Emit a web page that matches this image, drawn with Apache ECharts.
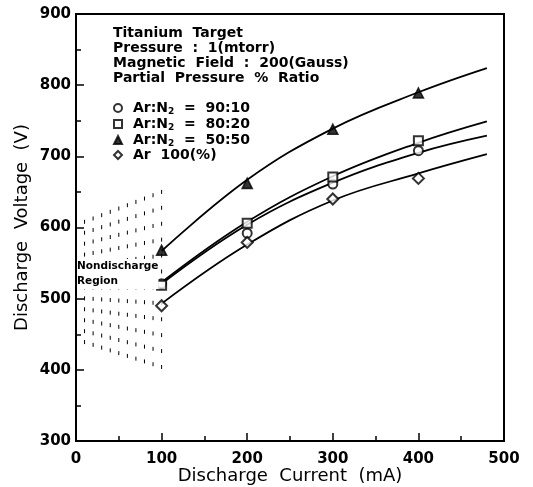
<!DOCTYPE html>
<html>
<head>
<meta charset="utf-8">
<script src="https://cdn.jsdelivr.net/npm/echarts@6/dist/echarts.min.js"></script>
<style>
  html, body { margin: 0; padding: 0; background: #fff; }
  #chart { width: 533px; height: 487px; }
</style>
</head>
<body>
<div id="chart"></div>
<script>
// measured points (mA, V)
const current = [100, 200, 300, 400];
const v9010 = [521, 592, 661, 708];
const v8020 = [519, 606, 671, 722];
const v5050 = [568, 662, 738, 789];
const vAr100 = [490, 579, 640, 669];

// fitted curves
const fitCurrent = [100, 200, 300, 400, 480];
const fit9010 = [521, 604, 663, 705, 729];
const fit8020 = [523, 608, 672, 719, 749];
const fit5050 = [567, 667, 739, 790, 824];
const fitAr100 = [493, 576, 638, 676, 703];

// non-discharge region outline: x, lower V, upper V
const regionCurrent = [10, 100];
const regionLow = [439, 404];
const regionHigh = [608, 650];

const xTicks = [0, 100, 200, 300, 400, 500];
const yTicks = [300, 400, 500, 600, 700, 800, 900];

const FONT = 'DejaVu Sans';
const pairs = (xs, ys) => xs.map((x, i) => [x, ys[i]]);

const chart = echarts.init(document.getElementById('chart'));

const hatchItem = (params, api) => {
    const cols = 10, rows = 12;
    const children = [];
    for (let c = 0; c < cols; c++) {
        const t = c / (cols - 1);
        const x = regionCurrent[0] + (regionCurrent[1] - regionCurrent[0]) * t;
        const lo = regionLow[0] + (regionLow[1] - regionLow[0]) * t;
        const hi = regionHigh[0] + (regionHigh[1] - regionHigh[0]) * t;
        for (let r = 0; r < rows; r++) {
            const v = lo + (hi - lo) * r / (rows - 1);
            const p = api.coord([x, v]);
            children.push({
                type: 'line',
                shape: { x1: p[0], y1: p[1] - 2, x2: p[0], y2: p[1] + 2 },
                style: { stroke: '#000', lineWidth: 1 }
            });
        }
    }
    return { type: 'group', children };
};

const curve = (data) => ({
    type: 'line',
    data,
    smooth: 0.4,
    showSymbol: false,
    silent: true,
    lineStyle: { color: '#000', width: 1.8 },
    z: 3
});

const marks = (name, data, symbol, size) => ({
    name,
    type: 'scatter',
    data,
    symbol,
    symbolSize: size,
    itemStyle: { color: '#000', borderColor: '#000', borderWidth: 1.6 },
    z: 5
});

const legendLabel = {
    'Ar:N2 = 90:10': '{t|Ar:N}{s|2}{t|  =  90:10}',
    'Ar:N2 = 80:20': '{t|Ar:N}{s|2}{t|  =  80:20}',
    'Ar:N2 = 50:50': '{t|Ar:N}{s|2}{t|  =  50:50}',
    'Ar 100(%)': '{t|Ar  100(%)}'
};

chart.setOption({
    animation: false,
    grid: {
        left: 76, right: 29, top: 14, bottom: 46,
        outerBoundsMode: 'none',
        show: true, borderColor: '#000', borderWidth: 2
    },
    title: {
        text: 'Titanium  Target\nPressure  :  1(mtorr)\nMagnetic  Field  :  200(Gauss)\nPartial  Pressure  %  Ratio',
        left: 113, top: 26, padding: 0,
        textStyle: { fontFamily: FONT, fontWeight: 'bold', fontSize: 14, lineHeight: 15, color: '#000' }
    },
    legend: {
        orient: 'vertical',
        left: 113, top: 100, padding: 0,
        itemWidth: 8, itemHeight: 8, itemGap: 0,
        data: ['Ar:N2 = 90:10', 'Ar:N2 = 80:20', 'Ar:N2 = 50:50', 'Ar 100(%)'],
        formatter: name => legendLabel[name],
        textStyle: {
            padding: [0, 0, 0, 6],
            rich: {
                t: { fontFamily: FONT, fontWeight: 'bold', fontSize: 14, lineHeight: 14, color: '#000' },
                s: { fontFamily: FONT, fontWeight: 'bold', fontSize: 9, lineHeight: 14, color: '#000', padding: [7, 0, 0, 0] }
            }
        }
    },
    xAxis: {
        type: 'value',
        min: xTicks[0], max: xTicks[xTicks.length - 1], interval: 100,
        name: 'Discharge  Current  (mA)',
        nameLocation: 'middle', nameGap: 26, nameMoveOverlap: false,
        nameTextStyle: { fontFamily: FONT, fontSize: 18, color: '#000' },
        axisLine: { lineStyle: { color: '#000', width: 2 } },
        axisTick: { inside: true, length: 8, lineStyle: { color: '#000', width: 1.5 } },
        minorTick: { show: true, splitNumber: 2, length: 5, lineStyle: { color: '#000', width: 1.5 } },
        splitLine: { show: false },
        axisLabel: { fontFamily: FONT, fontWeight: 'bold', fontSize: 15, color: '#000', margin: 11 }
    },
    yAxis: {
        type: 'value',
        min: yTicks[0], max: yTicks[yTicks.length - 1], interval: 100,
        name: 'Discharge  Voltage  (V)',
        nameLocation: 'middle', nameGap: 45, nameMoveOverlap: false,
        nameTextStyle: { fontFamily: FONT, fontSize: 18, color: '#000' },
        axisLine: { lineStyle: { color: '#000', width: 2 } },
        axisTick: { inside: true, length: 8, lineStyle: { color: '#000', width: 1.5 } },
        minorTick: { show: true, splitNumber: 2, length: 5, lineStyle: { color: '#000', width: 1.5 } },
        splitLine: { show: false },
        axisLabel: { fontFamily: FONT, fontWeight: 'bold', fontSize: 15, color: '#000', margin: 5 }
    },
    graphic: [{
        type: 'text',
        left: 77, top: 259, z: 10,
        style: {
            text: 'Nondischarge\nRegion',
            fontFamily: FONT, fontWeight: 'bold', fontSize: 10.5, lineHeight: 15,
            fill: '#000', backgroundColor: '#fff'
        }
    }],
    series: [
        { type: 'custom', silent: true, renderItem: hatchItem, data: [0], z: 1 },
        curve(pairs(fitCurrent, fit9010)),
        curve(pairs(fitCurrent, fit8020)),
        curve(pairs(fitCurrent, fit5050)),
        curve(pairs(fitCurrent, fitAr100)),
        marks('Ar:N2 = 90:10', pairs(current, v9010), 'emptyCircle', 9),
        marks('Ar:N2 = 80:20', pairs(current, v8020), 'emptyRect', 9),
        marks('Ar:N2 = 50:50', pairs(current, v5050), 'triangle', 10),
        marks('Ar 100(%)', pairs(current, vAr100), 'emptyDiamond', 11)
    ]
});
</script>
</body>
</html>
